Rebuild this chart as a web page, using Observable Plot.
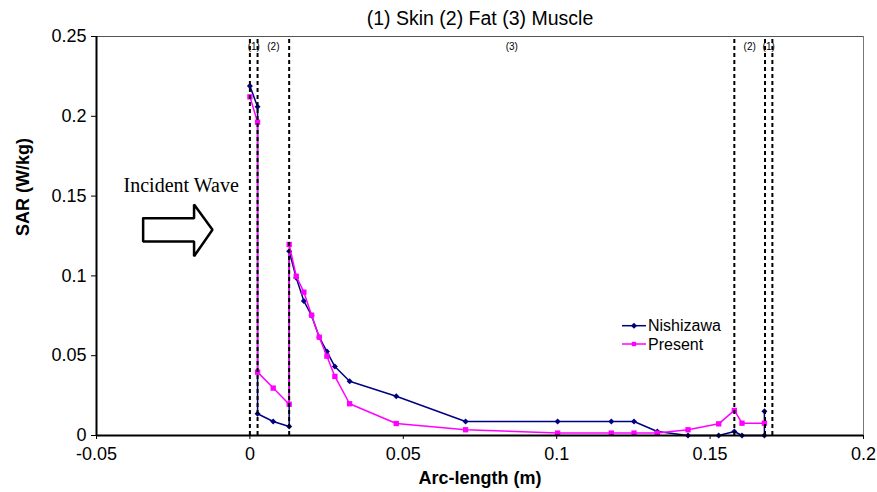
<!DOCTYPE html>
<html><head><meta charset="utf-8">
<script src="https://cdn.jsdelivr.net/npm/d3@7"></script>
<script src="https://cdn.jsdelivr.net/npm/@observablehq/plot@0.6"></script>
<style>
body{margin:0;background:#fff}
#chart{position:relative;width:877px;height:492px}
</style>
</head><body><div id="chart"></div>
<script>
// ---- data ----
const chartTitle = "(1) Skin (2) Fat (3) Muscle";
const xLabel = "Arc-length (m)";
const yLabel = "SAR (W/kg)";
const xTicks = [-0.05, 0, 0.05, 0.1, 0.15, 0.2];
const yTicks = [0, 0.05, 0.1, 0.15, 0.2, 0.25];
const layerBounds = [0, 0.0025, 0.0128, 0.1579, 0.1679, 0.1703];
const layerLabels = ["(1)", "(2)", "(3)", "(2)", "(1)"];
const seriesNames = ["Nishizawa", "Present"];
const nishX = [0, 0.0025, 0.0025, 0.0076, 0.0128, 0.0128, 0.0151, 0.0176, 0.0201, 0.0226, 0.0251, 0.0277, 0.0325, 0.0477, 0.0703, 0.1003, 0.1178, 0.1252, 0.1328, 0.1428, 0.1528, 0.1579, 0.1604, 0.1677, 0.1677];
const nishY = [0.219, 0.206, 0.0136, 0.0088, 0.0056, 0.1155, 0.0988, 0.0842, 0.0752, 0.0616, 0.0526, 0.0432, 0.034, 0.0246, 0.0088, 0.0088, 0.0088, 0.0088, 0.0025, 0, 0, 0.0025, 0, 0, 0.0152];
const presX = [0, 0.0025, 0.0025, 0.0076, 0.0128, 0.0128, 0.0151, 0.0176, 0.0201, 0.0226, 0.0251, 0.0277, 0.0325, 0.0477, 0.0703, 0.1003, 0.1178, 0.1252, 0.1328, 0.1428, 0.1528, 0.1579, 0.1604, 0.1677];
const presY = [0.2122, 0.1963, 0.0397, 0.0297, 0.0196, 0.1197, 0.0998, 0.0898, 0.0754, 0.0616, 0.0497, 0.037, 0.0199, 0.0075, 0.0036, 0.0015, 0.0015, 0.0015, 0.0015, 0.0036, 0.0073, 0.0157, 0.0077, 0.0077];
const annotationText = "Incident Wave";
const annotationX = [-0.0224];
const annotationY = [0.1566];
// block-arrow outline (data units)
const arrowX = [-0.0348, -0.0182, -0.0182, -0.0122, -0.0182, -0.0182, -0.0348, -0.0348];
const arrowY = [0.1362, 0.1362, 0.1447, 0.1289, 0.1123, 0.1216, 0.1216, 0.1362];

// ---- build ----
const NAVY = "#000080", MAGENTA = "#ff00ff";
const nish = nishX.map((x, i) => ({x, y: nishY[i]}));
const pres = presX.map((x, i) => ({x, y: presY[i]}));
const arrow = arrowX.map((x, i) => ({x, y: arrowY[i]}));
const layerMid = layerLabels.map((t, i) => ({x: (layerBounds[i] + layerBounds[i + 1]) / 2, t}));
const fmt = d => String(d);
// rotated-square diamond (Excel style)
const rhombus = {draw(ctx, size) { const r = Math.sqrt(size / 2); ctx.moveTo(0, -r); ctx.lineTo(r, 0); ctx.lineTo(0, r); ctx.lineTo(-r, 0); ctx.closePath(); }};

const chart = Plot.plot({
  width: 877, height: 492,
  marginLeft: 96, marginRight: 14, marginTop: 36, marginBottom: 57,
  style: {fontFamily: "'Liberation Sans', Arial, sans-serif", fontSize: "18px", color: "#000", background: "#fff", overflow: "visible"},
  x: {domain: [-0.05, 0.2], ticks: xTicks, tickFormat: fmt, tickSize: 4, tickPadding: 8, label: null},
  y: {domain: [0, 0.25], ticks: yTicks, tickFormat: fmt, tickSize: 5, tickPadding: 5, label: null},
  marks: [
    Plot.ruleY([0.25], {stroke: "#555", strokeWidth: 1}),
    Plot.ruleX([0.2], {stroke: "#777", strokeWidth: 1}),
    Plot.line(nish, {x: "x", y: "y", stroke: NAVY, strokeWidth: 1.5}),
    Plot.dot(nish, {x: "x", y: "y", symbol: rhombus, r: 2.4, fill: NAVY}),
    Plot.line(pres, {x: "x", y: "y", stroke: MAGENTA, strokeWidth: 1.5}),
    Plot.dot(pres, {x: "x", y: "y", symbol: "square", r: 3, fill: MAGENTA}),
    Plot.ruleX(layerBounds, {y1: 0, y2: 0.25, stroke: "#000", strokeWidth: 2, strokeDasharray: "4,3"}),
    Plot.text(layerMid, {x: "x", text: "t", frameAnchor: "top", lineAnchor: "middle", dy: 10, fontSize: 10}),
    Plot.ruleX([-0.05], {stroke: "#000", strokeWidth: 2}),
    Plot.ruleY([0], {stroke: "#000", strokeWidth: 2}),
    Plot.line(arrow, {x: "x", y: "y", stroke: "#000", strokeWidth: 2.5, strokeLinejoin: "miter"}),
    Plot.text([annotationText], {x: annotationX, y: annotationY, text: d => d, fontFamily: "'Liberation Serif', 'Times New Roman', serif", fontSize: 20}),
    Plot.text([chartTitle], {frameAnchor: "top", lineAnchor: "middle", dy: -18, fontSize: 19.5}),
    Plot.text([xLabel], {frameAnchor: "bottom", lineAnchor: "middle", dy: 43, fontSize: 18, fontWeight: "bold"}),
    Plot.text([yLabel], {frameAnchor: "left", dx: -73, rotate: -90, fontSize: 18, fontWeight: "bold"})
  ]
});

// legend
const svg = d3.select(chart);
const legend = svg.append("g").attr("font-family", "'Liberation Sans', Arial, sans-serif").attr("font-size", 16).attr("text-anchor", "start");
const items = [
  {name: seriesNames[0], color: NAVY, sym: rhombus, y: 325.7},
  {name: seriesNames[1], color: MAGENTA, sym: d3.symbolSquare, y: 344}
];
items.forEach(it => {
  legend.append("line").attr("x1", 622).attr("x2", 646).attr("y1", it.y).attr("y2", it.y).attr("stroke", it.color).attr("stroke-width", 1.5);
  legend.append("path").attr("d", d3.symbol(it.sym, Math.PI * 6)()).attr("transform", `translate(634,${it.y})`).attr("fill", it.color);
  legend.append("text").attr("x", 648).attr("y", it.y).attr("dy", "0.35em").attr("text-anchor", "start").text(it.name);
});

document.getElementById("chart").appendChild(chart);
</script>
</body></html>
